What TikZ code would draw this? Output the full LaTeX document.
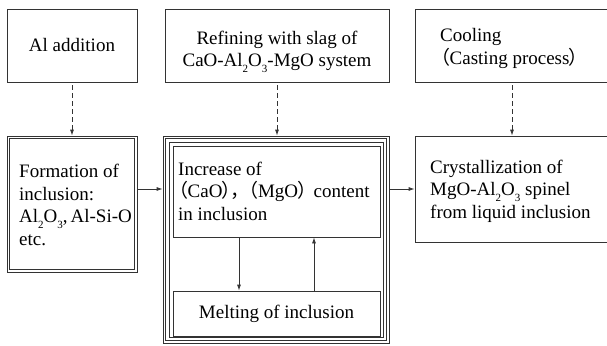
\documentclass[tikz,border=0pt]{standalone}
\usepackage{fontspec}
\setmainfont{Liberation Serif}
\newfontfamily\cjk[RawFeature=+palt]{Noto Sans CJK SC}
\usetikzlibrary{arrows.meta}
\newcommand{\myLP}{{\cjk （}}
\newcommand{\myRP}{{\cjk ）}}
\newcommand{\myCM}{{\cjk ，}}
\newcommand{\mysub}[1]{\raisebox{-0.3em}{\fontsize{11}{11}\selectfont #1}}
\begin{document}
\begin{tikzpicture}[x=1pt,y=-1pt,
  box/.style={draw=black!80, line width=0.8pt, inner sep=0pt},
  frame/.style={draw=black!80, line width=0.8pt},
  lbl/.style={font=\fontsize{19}{22.5}\selectfont, inner sep=0pt, text=black},
  arr/.style={draw=black!80, line width=0.8pt, -{Latex[length=6pt,width=4pt]}},
  darr/.style={arr, dash pattern=on 5pt off 3pt, dash phase=5pt}]
\clip (0,0) rectangle (607,345);
\fill[white] (0,0) rectangle (607,345);
% top row
\node[box, lbl, minimum width=130pt, minimum height=73pt] (al) at (72,45.5) {Al addition};
\node[box, minimum width=224pt, minimum height=73pt] (ref) at (277,45.5) {};
\node[lbl, align=center] (reft) at (277,51.5) {Refining with slag of\\CaO-Al\mysub{2}O\mysub{3}-MgO system};
\node[box, minimum width=194pt, minimum height=73pt] (cool) at (512,45.5) {};
\node[lbl, align=left, anchor=west] (coolt) at (440,48.5) {Cooling\\\myLP Casting process\myRP};
% left double box
\node[box, minimum width=130pt, minimum height=136pt] (form) at (72,204) {};
\draw[frame] ([shift={(3,3)}]form.north west) rectangle ([shift={(-3,-3)}]form.south east);
\node[lbl, align=left, anchor=west] (formt) at (19,205) {Formation of\\inclusion:\\Al\mysub{2}O\mysub{3},\hspace{3pt}Al-Si-O\\etc.};
% middle triple frame
\node[box, minimum width=226pt, minimum height=207pt] (mid) at (276,239.5) {};
\draw[frame] ([shift={(3,3)}]mid.north west) rectangle ([shift={(-3,-3)}]mid.south east);
\draw[frame] ([shift={(6.5,6.5)}]mid.north west) rectangle ([shift={(-6.5,-6.5)}]mid.south east);
\node[box, minimum width=207pt, minimum height=91pt] (inc) at (276.5,191.5) {};
\node[lbl, align=left, anchor=west] (inct) at (178,191) {Increase of\\\myLP CaO\myRP\myCM\hspace{7pt}\myLP MgO\myRP\hspace{6pt}content\\in inclusion};
\node[box, lbl, minimum width=207pt, minimum height=45pt] (melt) at (276.5,313.5) {Melting of inclusion};
% right box
\node[box, minimum width=194pt, minimum height=106pt] (crys) at (512,189) {};
\node[lbl, align=left, anchor=west] (cryst) at (430,191) {Crystallization of\\MgO-Al\mysub{2}O\mysub{3} spinel\\from liquid inclusion};
% connectors
\coordinate (dx) at (239,0);
\coordinate (ux) at (314,0);
\draw[darr] (al.south) -- (form.north);
\draw[darr] (ref.south) -- (ref.south |- mid.north);
\draw[darr] (cool.south) -- (crys.north);
\draw[arr] (form.east |- crys.west) -- (mid.west |- crys.west);
\draw[arr] (mid.east |- crys.west) -- (crys.west);
\draw[arr] (dx |- inc.south) -- (dx |- melt.north);
\draw[arr] (ux |- melt.north) -- (ux |- inc.south);
\end{tikzpicture}
\end{document}
